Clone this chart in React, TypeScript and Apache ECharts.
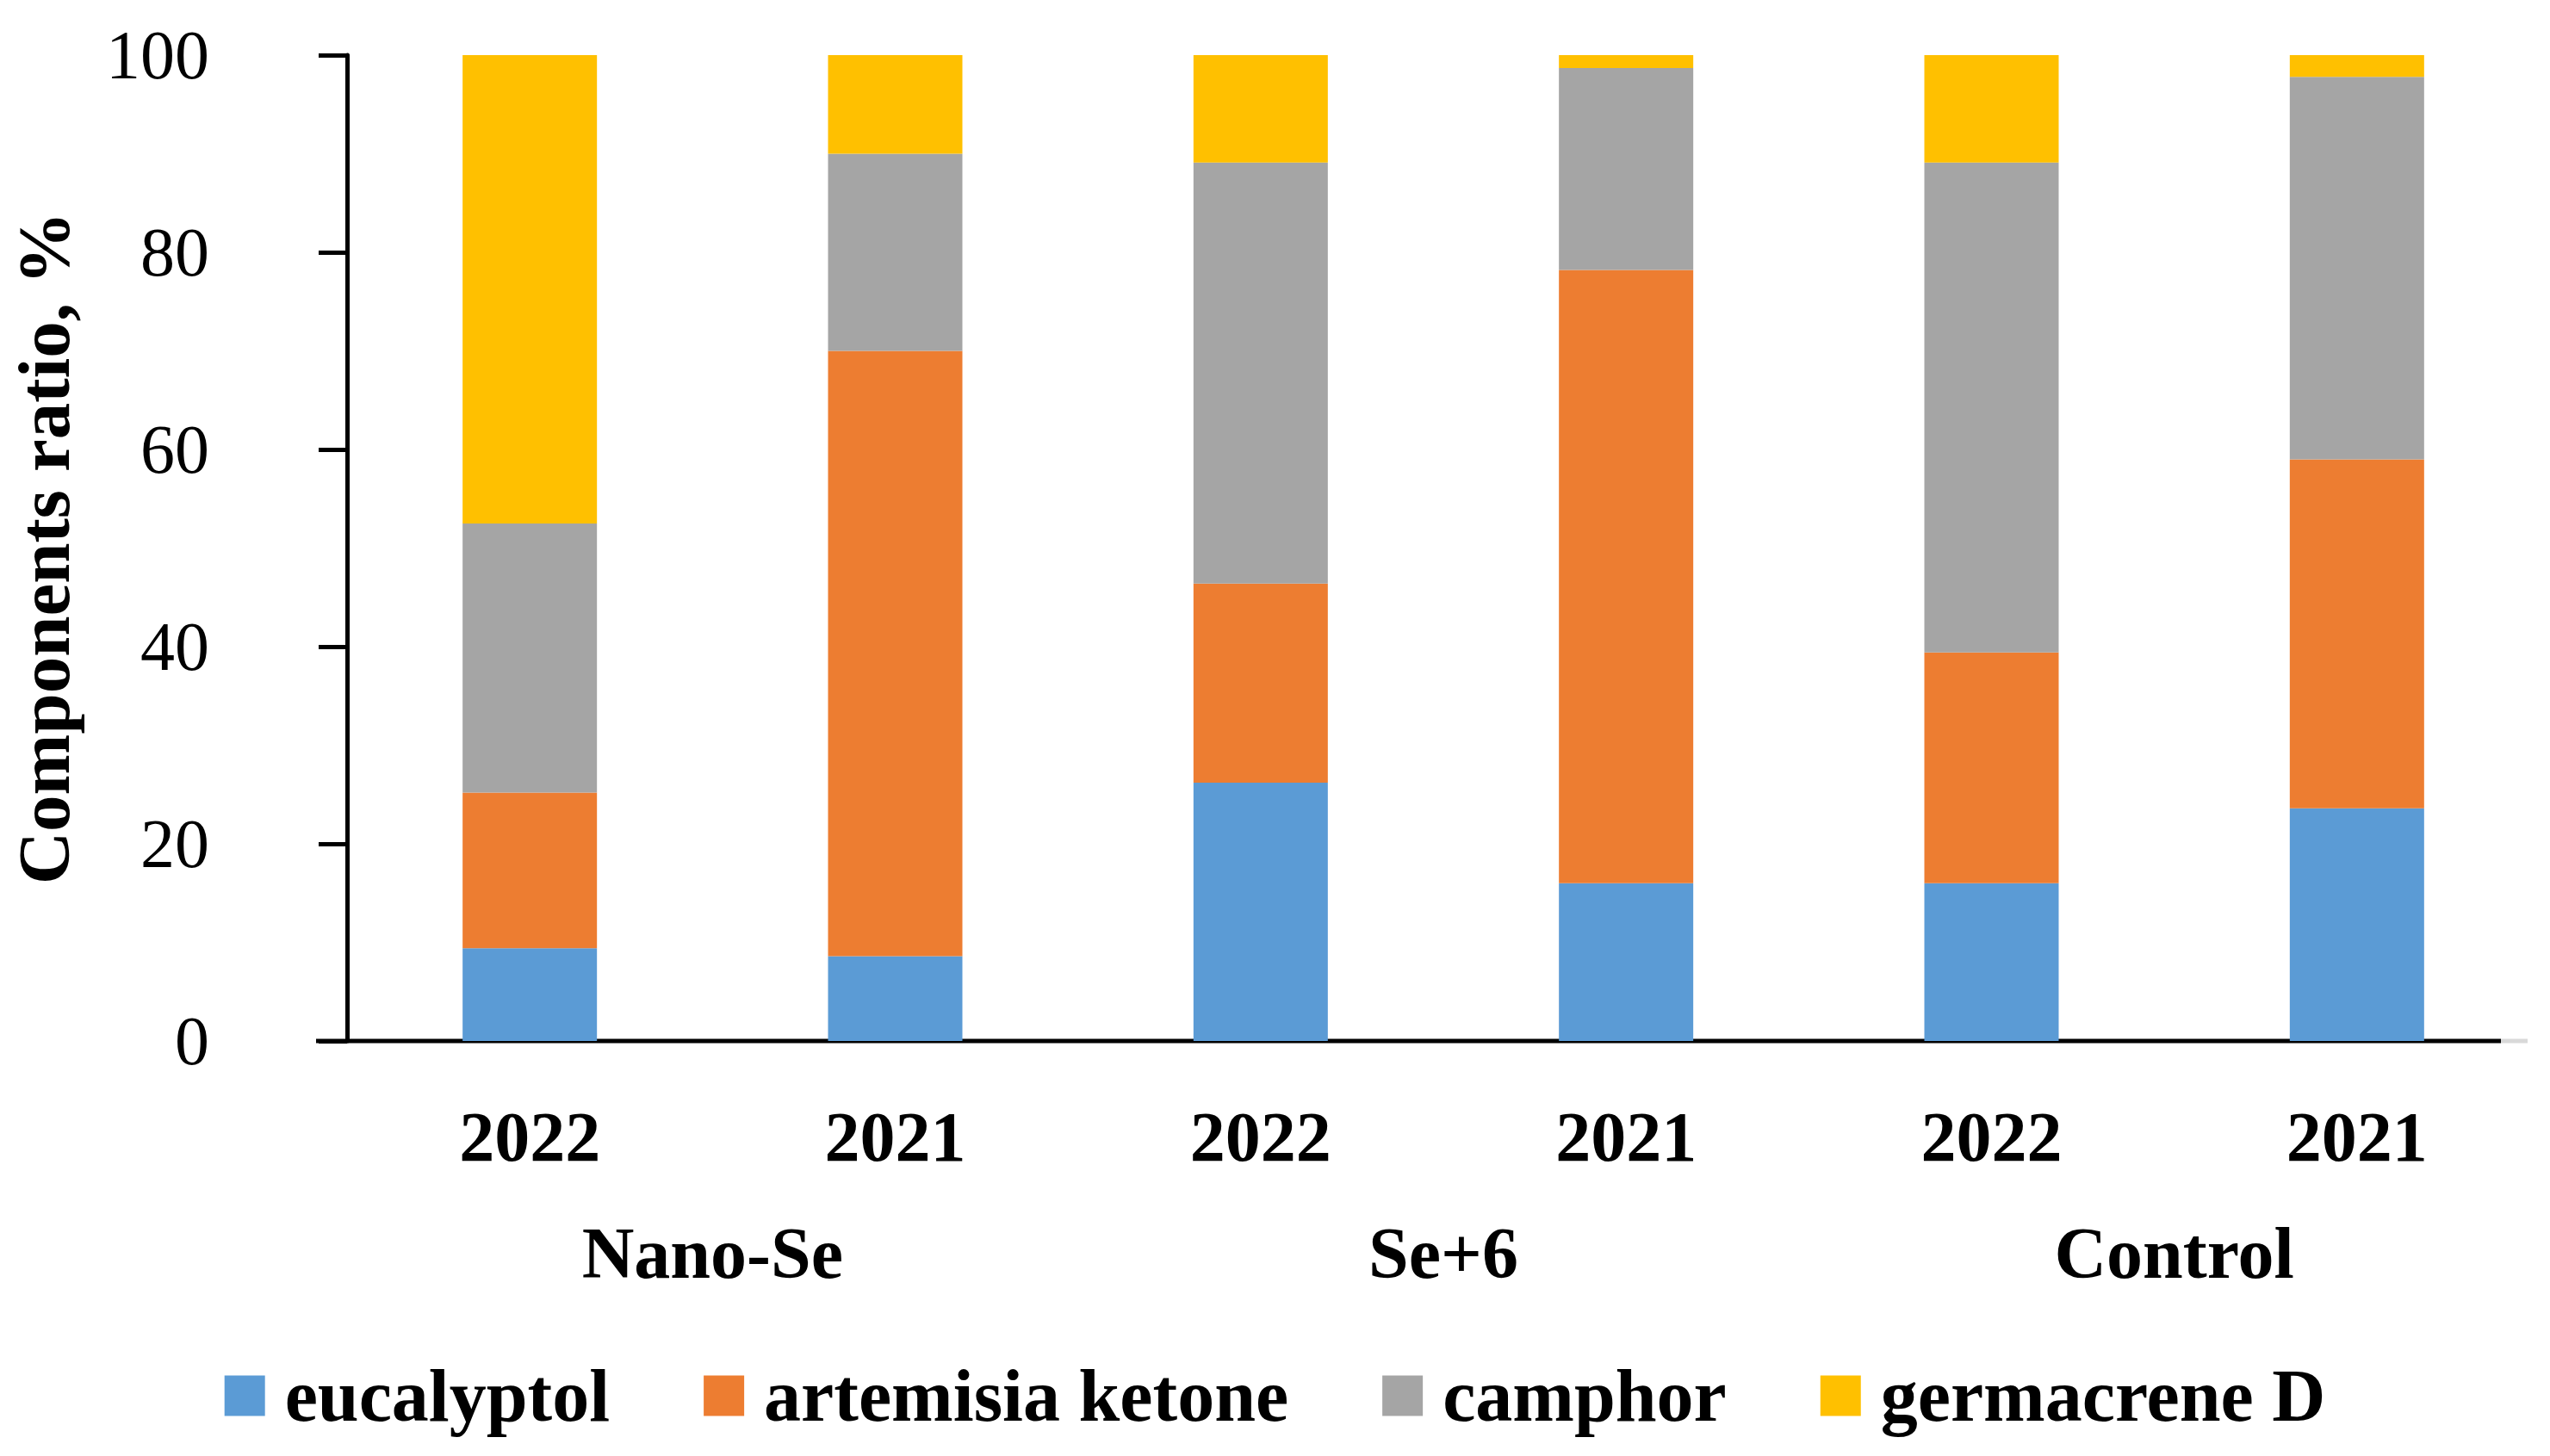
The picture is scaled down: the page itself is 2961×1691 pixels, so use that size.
import React, { useEffect, useRef } from "react";
import * as echarts from "echarts";

// Harvest years for each bar, grouped by treatment
const years = ["2022", "2021", "2022", "2021", "2022", "2021"];
const treatments = ["Nano-Se", "Se+6", "Control"];

// Share of each component, % (stacked bottom to top)
const eucalyptol = [9.4, 8.6, 26.2, 16.0, 16.0, 23.6];
const artemisiaKetone = [15.8, 61.4, 20.2, 62.2, 23.4, 35.4];
const camphor = [27.3, 20.0, 42.7, 20.5, 49.7, 38.8];
const germacreneD = [47.5, 10.0, 10.9, 1.3, 10.9, 2.2];

const yTicks = [0, 20, 40, 60, 80, 100];

const FONT = "'Liberation Serif', 'DejaVu Serif', serif";

export default function App() {
  const ref = useRef<HTMLDivElement>(null);

  useEffect(() => {
    document.body.style.margin = "0";
    if (!ref.current) return;
    const chart = echarts.init(ref.current, undefined, { renderer: "svg" });

    const makeSeries = (name: string, data: number[], color: string) => ({
      name,
      type: "bar",
      stack: "total",
      barWidth: 156,
      data,
      itemStyle: { color },
      xAxisIndex: 0,
      yAxisIndex: 0,
    });

    chart.setOption({
      animation: false,
      backgroundColor: "#ffffff",
      textStyle: { fontFamily: FONT },
      grid: { left: 400, top: 64, width: 2549, height: 1145 },
      xAxis: [
        {
          type: "category",
          data: years,
          axisLine: { show: false },
          axisTick: { show: false },
          axisLabel: {
            margin: 70,
            fontSize: 82,
            fontWeight: "bold",
            color: "#000",
            fontFamily: FONT,
          },
        },
        {
          type: "category",
          data: treatments,
          position: "bottom",
          axisLine: { show: false },
          axisTick: { show: false },
          axisLabel: {
            margin: 204,
            fontSize: 84,
            fontWeight: "bold",
            color: "#000",
            fontFamily: FONT,
          },
        },
      ],
      yAxis: {
        type: "value",
        min: 0,
        max: 100,
        interval: 20,
        name: "Components ratio, %",
        nameLocation: "middle",
        nameRotate: 90,
        nameGap: 310,
        nameTextStyle: {
          fontSize: 85,
          fontWeight: "bold",
          color: "#000",
          fontFamily: FONT,
        },
        axisLine: { show: true, lineStyle: { color: "#000", width: 5 } },
        axisTick: {
          show: true,
          length: 33,
          lineStyle: { color: "#000", width: 5 },
        },
        splitLine: { show: false },
        axisLabel: {
          margin: 160,
          fontSize: 80,
          color: "#000",
          fontFamily: FONT,
          formatter: (v: number) => (yTicks.includes(v) ? String(v) : ""),
        },
      },
      legend: {
        bottom: 22,
        left: "center",
        itemWidth: 47,
        itemHeight: 47,
        itemGap: 109,
        icon: "rect",
        textStyle: {
          fontSize: 86,
          fontWeight: "bold",
          color: "#000",
          fontFamily: FONT,
          padding: [0, 0, 0, 18],
        },
        data: ["eucalyptol", "artemisia ketone", "camphor", "germacrene D"],
      },
      graphic: [
        {
          type: "line",
          shape: { x1: 367, y1: 1209, x2: 2904, y2: 1209 },
          style: { stroke: "#000", lineWidth: 5 },
        },
        {
          type: "line",
          shape: { x1: 2904, y1: 1209, x2: 2935, y2: 1209 },
          style: { stroke: "#d9d9d9", lineWidth: 5 },
        },
      ],
      series: [
        makeSeries("eucalyptol", eucalyptol, "#5B9BD5"),
        makeSeries("artemisia ketone", artemisiaKetone, "#ED7D31"),
        makeSeries("camphor", camphor, "#A5A5A5"),
        makeSeries("germacrene D", germacreneD, "#FFC000"),
      ],
    });

    return () => chart.dispose();
  }, []);

  return <div ref={ref} style={{ width: 2961, height: 1691 }} />;
}
